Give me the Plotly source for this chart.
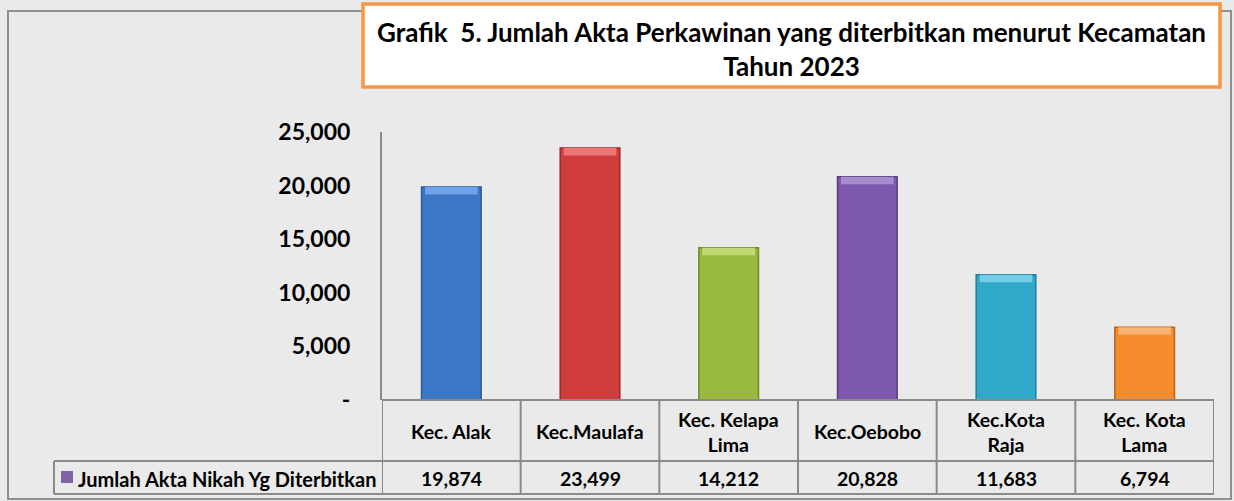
import plotly.graph_objects as go

categories = ["Kec. Alak", "Kec.Maulafa", "Kec. Kelapa<br>Lima", "Kec.Oebobo", "Kec.Kota<br>Raja", "Kec. Kota<br>Lama"]
values = [19874, 23499, 14212, 20828, 11683, 6794]
value_labels = ["19,874", "23,499", "14,212", "20,828", "11,683", "6,794"]
series_name = "Jumlah Akta Nikah Yg Diterbitkan"
tick_vals = [0, 5000, 10000, 15000, 20000, 25000]
tick_text = ["-", "5,000", "10,000", "15,000", "20,000", "25,000"]
title_text = "Grafik  5. Jumlah Akta Perkawinan yang diterbitkan menurut Kecamatan<br>Tahun 2023"

bar_colors = ["#3C77C6", "#CF3C3C", "#98B93C", "#7D58AC", "#30A8C9", "#F48B2C"]
cap_colors = ["#6FA2E6", "#EA7676", "#BFD977", "#A58CCB", "#72CDE6", "#F9B571"]
edge_colors = ["#2C5A9A", "#9C2A2A", "#71892A", "#5A3E80", "#237D96", "#B86518"]

W, H = 1234, 501
def px(x):
    return x / W
def py(y):
    return 1 - y / H

FONT = "Lato"
GRID = "#8A8A8A"

xs = list(range(len(categories)))
cap = 700  # bevel height in data units (styling)

fig = go.Figure()
fig.add_trace(go.Bar(
    x=xs, y=values, marker=dict(color=bar_colors, line=dict(color=edge_colors, width=1.5)),
    width=0.43, showlegend=False, hoverinfo="skip"))
fig.add_trace(go.Bar(
    x=xs, y=[cap] * len(values), base=[v - cap for v in values],
    marker=dict(color=cap_colors, line=dict(width=0)),
    width=0.38, showlegend=False, hoverinfo="skip"))

shapes = []
annotations = []

# outer border
shapes.append(dict(type="rect", xref="paper", yref="paper", x0=px(8), x1=px(1231), y0=py(499), y1=py(11),
                   line=dict(color="#8F8F8F", width=2), layer="below"))

# table lines
row_top, row_mid, row_bot = 400, 461, 494
x_left, x_right = 382, 1214
table_left = 54
for i in range(len(categories) + 1):
    shapes.append(dict(type="line", xref="x", yref="paper", x0=i - 0.5, x1=i - 0.5,
                       y0=py(row_top), y1=py(row_bot), line=dict(color=GRID, width=2)))
shapes.append(dict(type="line", xref="x", yref="paper", x0=-0.5, x1=len(categories) - 0.5,
                   y0=py(row_top), y1=py(row_top), line=dict(color=GRID, width=2)))
for yy in (row_mid, row_bot):
    shapes.append(dict(type="line", xref="paper", yref="paper", x0=px(table_left), x1=px(x_right),
                       y0=py(yy), y1=py(yy), line=dict(color=GRID, width=2)))
shapes.append(dict(type="line", xref="paper", yref="paper", x0=px(table_left), x1=px(table_left),
                   y0=py(row_mid), y1=py(row_bot), line=dict(color=GRID, width=2)))

# legend key square
shapes.append(dict(type="rect", xref="paper", yref="paper", x0=px(61), x1=px(73), y0=py(483), y1=py(471),
                   fillcolor="#8064A2", line=dict(width=0)))

# title box
shapes.append(dict(type="rect", xref="paper", yref="paper", x0=px(363), x1=px(1220), y0=py(87), y1=py(4),
                   fillcolor="white", line=dict(color="#F79646", width=3.5)))

annotations.append(dict(text="<b>" + title_text.replace("<br>", "</b><br><b>") + "</b>", xref="paper", yref="paper",
                        x=px(791), y=py(49), xanchor="center", yanchor="middle", showarrow=False,
                        font=dict(family=FONT, size=26, color="black"), align="center"))

for i, (c, v) in enumerate(zip(categories, value_labels)):
    annotations.append(dict(text="<b>" + c.replace("<br>", "</b><br><b>") + "</b>", xref="x", yref="paper",
                            x=i, y=py((row_top + row_mid) / 2 + 1), xanchor="center", yanchor="middle",
                            showarrow=False, font=dict(family=FONT, size=19.5, color="black"), align="center"))
    annotations.append(dict(text="<b>" + v + "</b>", xref="x", yref="paper",
                            x=i, y=py((row_mid + row_bot) / 2 + 1), xanchor="center", yanchor="middle",
                            showarrow=False, font=dict(family=FONT, size=19.5, color="black")))

annotations.append(dict(text="<b>" + series_name + "</b>", xref="paper", yref="paper",
                        x=px(76), y=py((row_mid + row_bot) / 2 + 1), xanchor="left", yanchor="middle",
                        showarrow=False, font=dict(family=FONT, size=20, color="black")))

fig.update_layout(
    template="none",
    width=W, height=H,
    margin=dict(l=0, r=0, t=0, b=0, pad=0, autoexpand=False),
    paper_bgcolor="#EAEAEA",
    plot_bgcolor="rgba(0,0,0,0)",
    barmode="overlay",
    shapes=shapes,
    annotations=annotations,
    xaxis=dict(domain=[px(x_left), px(x_right)], range=[-0.5, len(categories) - 0.5], automargin=False,
               showticklabels=False, showgrid=False, zeroline=False, showline=False, ticks=""),
    yaxis=dict(domain=[py(row_top), py(132)], range=[0, 25000], tickvals=tick_vals, ticktext=tick_text,
               automargin=False,
               showgrid=False, zeroline=False, showline=True, linecolor=GRID, linewidth=2,
               ticks="", ticklabelstandoff=25,
               tickfont=dict(family=FONT, size=23, color="black", weight="bold")),
)

fig.write_html("out.html", config={"displayModeBar": False},
               post_script="document.body.style.margin='0';document.body.style.overflow='hidden';")
